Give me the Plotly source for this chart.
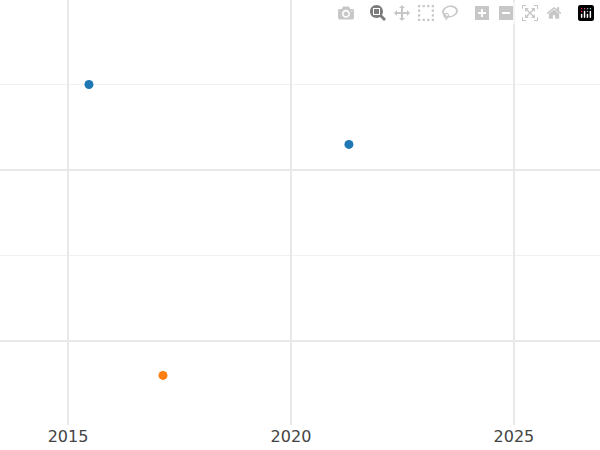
import plotly.graph_objects as go

blue_x = [2015.47, 2021.3]
blue_y = [1.5, 1.15]
orange_x = [2017.13]
orange_y = [-0.2]
x_ticks = [2015, 2020, 2025]

fig = go.Figure()
fig.add_trace(go.Scatter(x=blue_x, y=blue_y, mode="markers", marker=dict(color="#1f77b4", size=9)))
fig.add_trace(go.Scatter(x=orange_x, y=orange_y, mode="markers", marker=dict(color="#ff7f0e", size=9)))
fig.update_layout(
    width=600, height=450, showlegend=False,
    margin=dict(l=0, r=0, t=0, b=25, pad=0),
    plot_bgcolor="white", paper_bgcolor="white",
    font=dict(family="DejaVu Sans", size=16, color="#444"),
    xaxis=dict(range=[2013.475, 2026.93], tickvals=x_ticks, gridcolor="#e8e8e8", gridwidth=2,
               zeroline=False, showline=False),
    yaxis=dict(range=[-0.49, 1.994], dtick=1, showticklabels=False, gridcolor="#e8e8e8", gridwidth=2,
               zeroline=False, showline=False,
               minor=dict(dtick=0.5, showgrid=True, gridcolor="#f0f0f0", gridwidth=1)),
)
fig.write_html("out.html", post_script="document.body.style.margin='0';")
